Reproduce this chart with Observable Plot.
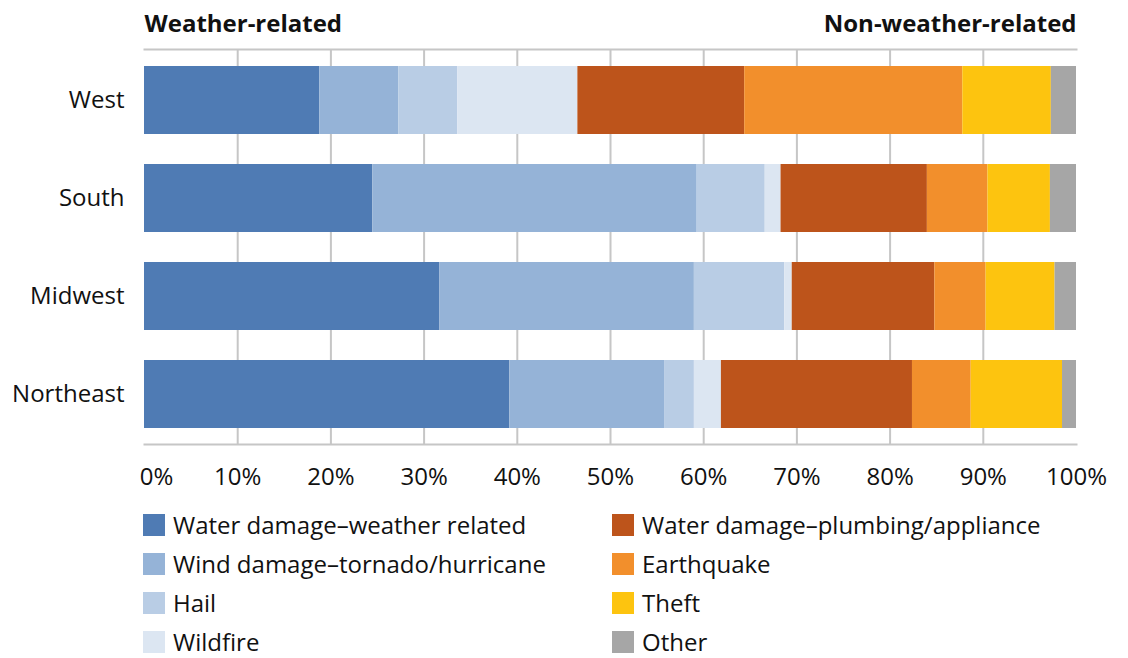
<!DOCTYPE html>
<html>
<head>
<meta charset="utf-8">
<script src="https://cdn.jsdelivr.net/npm/d3@7"></script>
<script src="https://cdn.jsdelivr.net/npm/@observablehq/plot@0.6"></script>
<style>
  body { margin: 0; background: #fff; font-family: "Open Sans", Lato, sans-serif; color: #111; }
  #legend {
    display: grid;
    grid-template-columns: 469px auto;
    grid-template-rows: repeat(4, 39px);
    grid-auto-flow: column;
    margin: 5px 0 0 143px;
    font-size: 24px;
    line-height: 1;
  }
  .item { display: flex; align-items: center; }
  .swatch { width: 22px; height: 22px; margin-right: 8px; flex: none; }
</style>
</head>
<body>
<div id="chart"></div>
<div id="legend"></div>
<script>
// Regions (rows, top to bottom)
const regions = ["West", "South", "Midwest", "Northeast"];

// Loss causes, in stacking order, with their fills
const causes = [
  "Water damage\u2013weather related",
  "Wind damage\u2013tornado/hurricane",
  "Hail",
  "Wildfire",
  "Water damage\u2013plumbing/appliance",
  "Earthquake",
  "Theft",
  "Other"
];
const colors = ["#4f7bb4", "#95b3d7", "#b9cde5", "#dce6f2", "#bd541b", "#f28f2c", "#fdc40f", "#a6a6a6"];

// Share of claims (%) by region, one array per cause, in region order
const waterWeather = [18.8, 24.5, 31.7, 39.2];
const wind         = [8.5, 34.8, 27.3, 16.6];
const hail         = [6.3, 7.3, 9.7, 3.2];
const wildfire     = [12.9, 1.7, 0.8, 2.9];
const plumbing     = [17.9, 15.7, 15.3, 20.5];
const earthquake   = [23.4, 6.5, 5.5, 6.3];
const theft        = [9.5, 6.7, 7.4, 9.8];
const other        = [2.7, 2.8, 2.3, 1.5];

// Axis ticks (the 0% label sits just inside the frame)
const startTick = [0];
const xTicks = [10, 20, 30, 40, 50, 60, 70, 80, 90, 100];
const gridTicks = [10, 20, 30, 40, 50, 60, 70, 80, 90];

const series = [waterWeather, wind, hail, wildfire, plumbing, earthquake, theft, other];
const rows = [];
series.forEach((vals, ci) => {
  regions.forEach((r, ri) => rows.push({region: r, cause: causes[ci], value: vals[ri]}));
});

const lineColor = "#c6c6c6";
const font = "'Open Sans', Lato, sans-serif";
const pct = d => d + "%";

const chart = Plot.plot({
  width: 1128,
  height: 500,
  marginTop: 49,
  marginBottom: 56,
  marginLeft: 144,
  marginRight: 52,
  style: {fontFamily: font, fontSize: "24px", color: "#111", background: "#fff"},
  x: {domain: [0, 100]},
  y: {domain: regions, paddingInner: 0.31, paddingOuter: 0.16},
  color: {domain: causes, range: colors},
  marks: [
    Plot.gridX(gridTicks, {stroke: lineColor, strokeOpacity: 1, strokeWidth: 2}),
    Plot.barX(rows, Plot.stackX({
      x: "value", y: "region", fill: "cause", order: causes
    })),
    Plot.frame({anchor: "top", stroke: lineColor, strokeWidth: 2}),
    Plot.frame({anchor: "bottom", stroke: lineColor, strokeWidth: 2}),
    Plot.axisY({tickSize: 0, tickPadding: 20, fontSize: 24, label: null}),
    Plot.axisX(startTick, {tickSize: 0, tickPadding: 23, fontSize: 24, label: null, tickFormat: pct, dx: 12}),
    Plot.axisX(xTicks, {tickSize: 0, tickPadding: 23, fontSize: 24, label: null, tickFormat: pct}),
    Plot.text(["Weather-related"], {
      frameAnchor: "top-left", textAnchor: "start", lineAnchor: "bottom",
      dy: -18, fontWeight: 700, fontSize: 24, fill: "#111"
    }),
    Plot.text(["Non-weather-related"], {
      frameAnchor: "top-right", textAnchor: "end", lineAnchor: "bottom",
      dy: -18, fontWeight: 700, fontSize: 24, fill: "#111"
    })
  ]
});
document.getElementById("chart").append(chart);

// Legend, two columns of four
const legend = d3.select("#legend");
causes.forEach((c, i) => {
  const item = legend.append("div").attr("class", "item");
  item.append("span").attr("class", "swatch").style("background", colors[i]);
  item.append("span").text(c);
});
</script>
</body>
</html>
